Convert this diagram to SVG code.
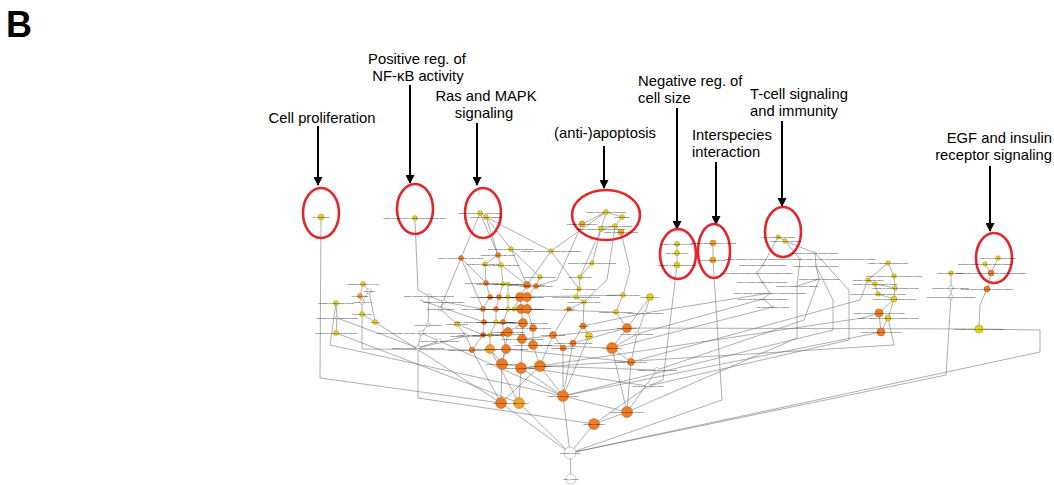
<svg xmlns="http://www.w3.org/2000/svg" width="1054" height="485" viewBox="0 0 1054 485">
<style>
.ann{font-family:"Liberation Sans",Arial,sans-serif;font-size:14.8px;fill:#000}
.arr{stroke:#000;stroke-width:2;fill:none}
.ring{fill:none;stroke:#e3262b;stroke-width:2.6}
.e{stroke:#6a6a6a;stroke-width:0.55;fill:none}
.y{fill:#e9d01f;stroke:#8c7d12;stroke-width:0.4}
.o{fill:#f07c22;stroke:#9c4c12;stroke-width:0.4}
.l{fill:#f2a326;stroke:#9c6412;stroke-width:0.4}
.w{fill:#fff;stroke:#777;stroke-width:0.4}
.node text{font-family:"Liberation Sans",Arial,sans-serif;font-size:2.4px;fill:#000;text-anchor:middle}
</style>
<defs>
<marker id="ah" viewBox="0 0 10 10" refX="9" refY="5" markerWidth="5" markerHeight="4.5" orient="auto" markerUnits="strokeWidth">
<path d="M0,0 L10,5 L0,10 z" fill="#000"/>
</marker>
</defs>
<rect width="1054" height="485" fill="#fff"/>
<text x="6" y="37" style="font-family:'Liberation Sans',Arial,sans-serif;font-size:36px;font-weight:bold">B</text>

<g id="connectors">
<path class="e" d="M321,220 L320,378 L501,403"/>
<path class="e" d="M415,221 L418,290 L429,296"/>
<path class="e" d="M480,213 L486,217"/>
<path class="e" d="M480,213 L461,258"/>
<path class="e" d="M480,213 L498,255"/>
<path class="e" d="M486,217 L511,249"/>
<path class="e" d="M486,217 L498,255"/>
<path class="e" d="M486,217 L551,251"/>
<path class="e" d="M461,258 L486,283"/>
<path class="e" d="M461,258 L440,309"/>
<path class="e" d="M461,258 L483,309"/>
<path class="e" d="M498,255 L485,264"/>
<path class="e" d="M498,255 L501,265"/>
<path class="e" d="M511,249 L527,285"/>
<path class="e" d="M511,249 L540,277"/>
<path class="e" d="M551,251 L527,285"/>
<path class="e" d="M551,251 L579,289"/>
<path class="e" d="M485,264 L486,283"/>
<path class="e" d="M501,265 L503,284"/>
<path class="e" d="M501,265 L527,285"/>
<path class="e" d="M540,277 L536,286"/>
<path class="e" d="M486,283 L490,297"/>
<path class="e" d="M503,284 L499,297"/>
<path class="e" d="M508,284 L508,297"/>
<path class="e" d="M527,285 L520,297"/>
<path class="e" d="M536,286 L527,297"/>
<path class="e" d="M490,297 L483,309"/>
<path class="e" d="M499,297 L496,309"/>
<path class="e" d="M508,297 L508,309"/>
<path class="e" d="M520,297 L514,309"/>
<path class="e" d="M520,297 L521,309"/>
<path class="e" d="M527,297 L527,309"/>
<path class="e" d="M483,309 L484,322"/>
<path class="e" d="M496,309 L496,322"/>
<path class="e" d="M508,309 L503,322"/>
<path class="e" d="M521,309 L523,323"/>
<path class="e" d="M527,309 L533,328"/>
<path class="e" d="M484,322 L483,335"/>
<path class="e" d="M496,322 L490,335"/>
<path class="e" d="M503,322 L503,334"/>
<path class="e" d="M523,323 L508,332"/>
<path class="e" d="M523,323 L522,339"/>
<path class="e" d="M533,328 L533,345"/>
<path class="e" d="M483,335 L472,350"/>
<path class="e" d="M490,335 L490,349"/>
<path class="e" d="M503,334 L506,349"/>
<path class="e" d="M508,332 L502,364"/>
<path class="e" d="M522,339 L521,368"/>
<path class="e" d="M533,345 L540,366"/>
<path class="e" d="M506,349 L502,364"/>
<path class="e" d="M490,349 L502,364"/>
<path class="e" d="M472,350 L501,403"/>
<path class="e" d="M490,349 L519,403"/>
<path class="e" d="M502,364 L501,403"/>
<path class="e" d="M521,368 L519,403"/>
<path class="e" d="M521,368 L563,396"/>
<path class="e" d="M540,366 L501,403"/>
<path class="e" d="M540,366 L563,396"/>
<path class="e" d="M553,335 L540,366"/>
<path class="e" d="M553,335 L563,348"/>
<path class="e" d="M573,343 L563,396"/>
<path class="e" d="M563,348 L563,396"/>
<path class="e" d="M583,326 L573,343"/>
<path class="e" d="M583,326 L589,336"/>
<path class="e" d="M589,336 L563,396"/>
<path class="e" d="M579,289 L576,297"/>
<path class="e" d="M576,297 L584,302"/>
<path class="e" d="M584,302 L569,309"/>
<path class="e" d="M569,309 L553,335"/>
<path class="e" d="M584,302 L583,326"/>
<path class="e" d="M580,277 L579,289"/>
<path class="e" d="M592,263 L580,277"/>
<path class="e" d="M623,295 L616,312"/>
<path class="e" d="M616,312 L627,328"/>
<path class="e" d="M627,328 L612,348"/>
<path class="e" d="M627,328 L573,343"/>
<path class="e" d="M612,348 L631,362"/>
<path class="e" d="M612,348 L627,412"/>
<path class="e" d="M631,362 L627,412"/>
<path class="e" d="M645,313 L637,334"/>
<path class="e" d="M637,334 L612,348"/>
<path class="e" d="M637,334 L631,362"/>
<path class="e" d="M657,370 L627,412"/>
<path class="e" d="M648,386 L594,424"/>
<path class="e" d="M650,297 L645,313"/>
<path class="e" d="M650,297 L627,328"/>
<path class="e" d="M563,396 L627,412"/>
<path class="e" d="M563,396 L570,453"/>
<path class="e" d="M627,412 L594,424"/>
<path class="e" d="M594,424 L570,453"/>
<path class="e" d="M501,403 L570,453"/>
<path class="e" d="M519,403 L570,453"/>
<path class="e" d="M570,453 L571,479"/>
<path class="e" d="M606,212 L582,224"/>
<path class="e" d="M606,212 L622,217"/>
<path class="e" d="M606,212 L601,229"/>
<path class="e" d="M622,217 L615,226"/>
<path class="e" d="M615,226 L601,229"/>
<path class="e" d="M615,226 L621,232"/>
<path class="e" d="M582,224 L557,280 L536,286"/>
<path class="e" d="M601,229 L593,260 L592,263"/>
<path class="e" d="M621,232 L630,270 L623,295"/>
<path class="e" d="M615,226 L607,280 L584,302"/>
<path class="e" d="M601,229 L580,277"/>
<path class="e" d="M606,212 L551,251"/>
<path class="e" d="M677,244 L677,253 L677,265"/>
<path class="e" d="M677,265 L663,380 L648,386"/>
<path class="e" d="M713,243 L713,260"/>
<path class="e" d="M713,260 L722,400 L570,453"/>
<path class="e" d="M778,237 L785,241"/>
<path class="e" d="M778,237 L763,265"/>
<path class="e" d="M785,241 L800,259"/>
<path class="e" d="M785,241 L815,253"/>
<path class="e" d="M763,265 L757,273"/>
<path class="e" d="M757,273 L762,282"/>
<path class="e" d="M762,282 L770,293"/>
<path class="e" d="M770,293 L763,299"/>
<path class="e" d="M763,299 L773,307"/>
<path class="e" d="M815,253 L816,266"/>
<path class="e" d="M816,266 L819,279"/>
<path class="e" d="M800,259 L797,286"/>
<path class="e" d="M797,286 L819,279"/>
<path class="e" d="M773,307 L612,348"/>
<path class="e" d="M770,293 L645,313"/>
<path class="e" d="M763,299 L637,334"/>
<path class="e" d="M797,286 L797,338 L627,412"/>
<path class="e" d="M819,279 L804,320 L657,370"/>
<path class="e" d="M816,266 L833,300 L833,330 L563,396"/>
<path class="e" d="M815,253 L849,290 L849,340 L648,386"/>
<path class="e" d="M888,263 L894,276"/>
<path class="e" d="M888,263 L868,280"/>
<path class="e" d="M894,276 L895,288"/>
<path class="e" d="M868,280 L875,284"/>
<path class="e" d="M875,284 L895,288"/>
<path class="e" d="M875,284 L878,294"/>
<path class="e" d="M895,288 L894,299"/>
<path class="e" d="M878,294 L894,299"/>
<path class="e" d="M894,299 L879,313"/>
<path class="e" d="M894,299 L888,318"/>
<path class="e" d="M879,313 L881,332"/>
<path class="e" d="M888,318 L881,332"/>
<path class="e" d="M881,332 L563,396"/>
<path class="e" d="M879,313 L862,318 L540,366"/>
<path class="e" d="M888,318 L894,345 L521,368"/>
<path class="e" d="M868,280 L860,300 L631,362"/>
<path class="e" d="M998,258 L991,273"/>
<path class="e" d="M985,264 L991,273"/>
<path class="e" d="M991,273 L987,289"/>
<path class="e" d="M987,289 L980,305 L979,329"/>
<path class="e" d="M979,329 L627,328"/>
<path class="e" d="M979,329 L1040,330 L1040,352 L570,453"/>
<path class="e" d="M951,273 L951,288"/>
<path class="e" d="M951,288 L951,297"/>
<path class="e" d="M951,297 L946,375 L570,453"/>
<path class="e" d="M363,284 L369,291"/>
<path class="e" d="M363,284 L360,296"/>
<path class="e" d="M360,296 L362,302"/>
<path class="e" d="M369,291 L362,302"/>
<path class="e" d="M362,302 L362,314"/>
<path class="e" d="M362,314 L375,322"/>
<path class="e" d="M369,291 L375,322"/>
<path class="e" d="M362,314 L362,349 L472,350"/>
<path class="e" d="M336,303 L337,318"/>
<path class="e" d="M337,318 L336,333"/>
<path class="e" d="M336,303 L330,345 L563,396"/>
<path class="e" d="M375,322 L501,403"/>
<path class="e" d="M336,333 L519,403"/>
<path class="e" d="M337,318 L418,348"/>
<path class="e" d="M429,296 L444,302"/>
<path class="e" d="M444,302 L440,309"/>
<path class="e" d="M429,296 L428,325"/>
<path class="e" d="M440,309 L457,324"/>
<path class="e" d="M428,325 L421,333"/>
<path class="e" d="M421,333 L439,341"/>
<path class="e" d="M439,341 L418,348"/>
<path class="e" d="M421,333 L418,348"/>
<path class="e" d="M457,324 L466,336"/>
<path class="e" d="M466,336 L418,348"/>
<path class="e" d="M466,336 L472,350"/>
<path class="e" d="M457,324 L483,335"/>
<path class="e" d="M418,348 L418,398 L594,424"/>
<path class="e" d="M439,341 L563,396"/>
<path class="e" d="M484,322 L420,300"/>
<path class="e" d="M483,309 L444,302"/>
<path class="e" d="M533,345 L612,348"/>
<path class="e" d="M522,339 L627,328"/>
<path class="e" d="M506,349 L631,362"/>
<path class="e" d="M540,366 L657,370"/>
<path class="e" d="M502,364 L648,386"/>
<path class="e" d="M583,326 L645,313"/>
<path class="e" d="M527,309 L616,312"/>
<path class="e" d="M527,297 L623,295"/>
</g>

<g id="annotations">
<text class="ann" x="322" y="123" text-anchor="middle">Cell proliferation</text>
<path class="arr" d="M318,126 L318,185" marker-end="url(#ah)"/>
<ellipse class="ring" cx="321" cy="213" rx="18" ry="25"/>
<text class="ann" x="417" y="64" text-anchor="middle">Positive reg. of</text>
<text class="ann" x="418" y="81" text-anchor="middle">NF-κB activity</text>
<path class="arr" d="M410,85 L410,183" marker-end="url(#ah)"/>
<ellipse class="ring" cx="415" cy="209" rx="18" ry="25"/>
<text class="ann" x="486" y="101" text-anchor="middle">Ras and MAPK</text>
<text class="ann" x="484" y="118" text-anchor="middle">signaling</text>
<path class="arr" d="M477,123 L477,185" marker-end="url(#ah)"/>
<ellipse class="ring" cx="483" cy="213" rx="18" ry="25"/>
<text class="ann" x="605" y="138" text-anchor="middle">(anti-)apoptosis</text>
<path class="arr" d="M604,146 L604,188" marker-end="url(#ah)"/>
<ellipse class="ring" cx="606" cy="215" rx="34" ry="25"/>
<text class="ann" x="638" y="86">Negative reg. of</text>
<text class="ann" x="638" y="103">cell size</text>
<path class="arr" d="M677,108 L677,229" marker-end="url(#ah)"/>
<ellipse class="ring" cx="678" cy="254" rx="18" ry="25"/>
<text class="ann" x="692" y="140">Interspecies</text>
<text class="ann" x="692" y="157">interaction</text>
<path class="arr" d="M716,162 L716,224" marker-end="url(#ah)"/>
<ellipse class="ring" cx="714" cy="251" rx="16" ry="27"/>
<text class="ann" x="750" y="99">T-cell signaling</text>
<text class="ann" x="750" y="116">and immunity</text>
<path class="arr" d="M782,121 L782,206" marker-end="url(#ah)"/>
<ellipse class="ring" cx="783" cy="232" rx="18" ry="25"/>
<text class="ann" x="1052" y="143" text-anchor="end">EGF and insulin</text>
<text class="ann" x="1052" y="160" text-anchor="end">receptor signaling</text>
<path class="arr" d="M990,166 L990,231" marker-end="url(#ah)"/>
<ellipse class="ring" cx="994" cy="258" rx="18" ry="25"/>
</g>

<g id="n1" class="node"><circle class="y" cx="321" cy="217" r="3"/><text x="321" y="218">cell proliferation</text></g>
<g id="n2" class="node"><circle class="y" cx="415" cy="218" r="2.5"/><text x="415" y="219">positive regulation of NF-kappaB transcription factor activity</text></g>
<g id="n3" class="node"><circle class="y" cx="480" cy="213" r="2.5"/><text x="480" y="214">positive regulation of MAP kinase activity</text></g>
<g id="n4" class="node"><circle class="y" cx="486" cy="217" r="2.5"/><text x="486" y="218">Ras protein signal transduction</text></g>
<g id="n5" class="node"><circle class="y" cx="606" cy="212" r="2.5"/><text x="606" y="213">positive regulation of cell proliferation</text></g>
<g id="n6" class="node"><circle class="l" cx="582" cy="224" r="3"/><text x="582" y="225">regulation of cell proliferation</text></g>
<g id="n7" class="node"><circle class="y" cx="622" cy="217" r="2.5"/><text x="622" y="218">anti-apoptosis</text></g>
<g id="n8" class="node"><circle class="y" cx="615" cy="226" r="2.5"/><text x="615" y="227">negative regulation of apoptosis</text></g>
<g id="n9" class="node"><circle class="y" cx="601" cy="229" r="2.5"/><text x="601" y="230">negative regulation of programmed cell death</text></g>
<g id="n10" class="node"><circle class="l" cx="621" cy="232" r="3"/><text x="621" y="233">negative regulation of cell death</text></g>
<g id="n11" class="node"><circle class="y" cx="677" cy="244" r="2.5"/><text x="677" y="245">negative regulation of cell size</text></g>
<g id="n12" class="node"><circle class="y" cx="677" cy="253" r="2.5"/><text x="677" y="254">regulation of cell size</text></g>
<g id="n13" class="node"><circle class="y" cx="677" cy="265" r="3"/><text x="677" y="266">regulation of cellular component size</text></g>
<g id="n14" class="node"><circle class="l" cx="713" cy="243" r="3"/><text x="713" y="244">interspecies interaction between organisms</text></g>
<g id="n15" class="node"><circle class="l" cx="713" cy="260" r="3"/><text x="713" y="261">multi-organism process</text></g>
<g id="n16" class="node"><circle class="y" cx="778" cy="237" r="2.3"/><text x="778" y="238">T cell receptor signaling pathway</text></g>
<g id="n17" class="node"><circle class="y" cx="785" cy="241" r="2.3"/><text x="785" y="242">regulation of T cell activation</text></g>
<g id="n18" class="node"><circle class="y" cx="998" cy="258" r="2.3"/><text x="998" y="259">insulin receptor signaling pathway</text></g>
<g id="n19" class="node"><circle class="y" cx="985" cy="264" r="2.3"/><text x="985" y="265">epidermal growth factor receptor signaling pathway</text></g>
<g id="n20" class="node"><circle class="o" cx="991" cy="273" r="3"/><text x="991" y="274">transmembrane receptor protein tyrosine kinase signaling pathway</text></g>
<g id="n21" class="node"><circle class="o" cx="987" cy="289" r="3"/><text x="987" y="290">enzyme linked receptor protein signaling pathway</text></g>
<g id="n22" class="node"><circle class="y" cx="979" cy="329" r="4"/><text x="979" y="330">cell surface receptor linked signal transduction</text></g>
<g id="n23" class="node"><circle class="y" cx="951" cy="273" r="2.3"/><text x="951" y="274">protein complex assembly</text></g>
<g id="n24" class="node"><circle class="w" cx="951" cy="288" r="2.3"/><text x="951" y="289">macromolecular complex assembly</text></g>
<g id="n25" class="node"><circle class="w" cx="951" cy="297" r="2.3"/><text x="951" y="298">macromolecular complex subunit organization</text></g>
<g id="n26" class="node"><circle class="y" cx="888" cy="263" r="2.3"/><text x="888" y="264">negative regulation of phosphorylation</text></g>
<g id="n27" class="node"><circle class="y" cx="894" cy="276" r="2.3"/><text x="894" y="277">negative regulation of phosphorus metabolic process</text></g>
<g id="n28" class="node"><circle class="y" cx="868" cy="280" r="2.3"/><text x="868" y="281">regulation of phosphorylation</text></g>
<g id="n29" class="node"><circle class="y" cx="875" cy="284" r="2.3"/><text x="875" y="285">regulation of phosphate metabolic process</text></g>
<g id="n30" class="node"><circle class="y" cx="895" cy="288" r="2.3"/><text x="895" y="289">regulation of phosphorus metabolic process</text></g>
<g id="n31" class="node"><circle class="y" cx="878" cy="294" r="2.3"/><text x="878" y="295">negative regulation of phosphate metabolic process</text></g>
<g id="n32" class="node"><circle class="y" cx="894" cy="299" r="3"/><text x="894" y="300">negative regulation of metabolic process</text></g>
<g id="n33" class="node"><circle class="o" cx="879" cy="313" r="4"/><text x="879" y="314">negative regulation of cellular metabolic process</text></g>
<g id="n34" class="node"><circle class="y" cx="888" cy="318" r="3"/><text x="888" y="319">negative regulation of macromolecule metabolic process</text></g>
<g id="n35" class="node"><circle class="o" cx="881" cy="332" r="4"/><text x="881" y="333">negative regulation of cellular process</text></g>
<g id="n36" class="node"><circle class="w" cx="815" cy="253" r="1.2"/><text x="815" y="254">regulation of lymphocyte mediated immunity</text></g>
<g id="n37" class="node"><circle class="w" cx="800" cy="259" r="1.2"/><text x="800" y="260">regulation of adaptive immune response based on somatic recombination of immune receptors built from immunoglobulin superfamily domains</text></g>
<g id="n38" class="node"><circle class="w" cx="763" cy="265" r="1.2"/><text x="763" y="266">antigen receptor-mediated signaling pathway</text></g>
<g id="n39" class="node"><circle class="w" cx="816" cy="266" r="1.2"/><text x="816" y="267">regulation of leukocyte mediated immunity</text></g>
<g id="n40" class="node"><circle class="w" cx="757" cy="273" r="1.2"/><text x="757" y="274">immune response-activating cell surface receptor signaling pathway</text></g>
<g id="n41" class="node"><circle class="w" cx="819" cy="279" r="1.2"/><text x="819" y="280">regulation of immune effector process</text></g>
<g id="n42" class="node"><circle class="w" cx="762" cy="282" r="1.2"/><text x="762" y="283">immune response-activating signal transduction</text></g>
<g id="n43" class="node"><circle class="w" cx="797" cy="286" r="1.2"/><text x="797" y="287">regulation of adaptive immune response</text></g>
<g id="n44" class="node"><circle class="w" cx="770" cy="293" r="1.2"/><text x="770" y="294">immune response-regulating cell surface receptor signaling pathway</text></g>
<g id="n45" class="node"><circle class="w" cx="763" cy="299" r="1.2"/><text x="763" y="300">immune response-regulating signal transduction</text></g>
<g id="n46" class="node"><circle class="w" cx="773" cy="307" r="1.2"/><text x="773" y="308">activation of immune response</text></g>
<g id="n47" class="node"><circle class="y" cx="363" cy="284" r="2.5"/><text x="363" y="285">interphase of mitotic cell cycle</text></g>
<g id="n48" class="node"><circle class="w" cx="369" cy="291" r="2.3"/><text x="369" y="292">interphase</text></g>
<g id="n49" class="node"><circle class="l" cx="360" cy="296" r="2.5"/><text x="360" y="297">cell cycle phase</text></g>
<g id="n50" class="node"><circle class="w" cx="362" cy="302" r="2.3"/><text x="362" y="303">mitotic cell cycle</text></g>
<g id="n51" class="node"><circle class="y" cx="362" cy="314" r="2.5"/><text x="362" y="315">cell cycle process</text></g>
<g id="n52" class="node"><circle class="y" cx="375" cy="322" r="2.5"/><text x="375" y="323">cell cycle</text></g>
<g id="n53" class="node"><circle class="y" cx="336" cy="303" r="2.5"/><text x="336" y="304">regulation of biosynthetic process</text></g>
<g id="n54" class="node"><circle class="w" cx="337" cy="318" r="1.5"/><text x="337" y="319">regulation of cellular metabolic process</text></g>
<g id="n55" class="node"><circle class="y" cx="336" cy="333" r="2.5"/><text x="336" y="334">regulation of primary metabolic process</text></g>
<g id="n56" class="node"><circle class="w" cx="429" cy="296" r="2"/><text x="429" y="297">positive regulation of transcription factor activity</text></g>
<g id="n57" class="node"><circle class="w" cx="444" cy="302" r="2"/><text x="444" y="303">regulation of transcription factor activity</text></g>
<g id="n58" class="node"><circle class="w" cx="440" cy="309" r="2"/><text x="440" y="310">regulation of DNA binding</text></g>
<g id="n59" class="node"><circle class="w" cx="428" cy="325" r="2"/><text x="428" y="326">regulation of transcription</text></g>
<g id="n60" class="node"><circle class="y" cx="457" cy="324" r="2.5"/><text x="457" y="325">regulation of binding</text></g>
<g id="n61" class="node"><circle class="w" cx="421" cy="333" r="2.3"/><text x="421" y="334">regulation of nucleobase, nucleoside, nucleotide and nucleic acid metabolic process</text></g>
<g id="n62" class="node"><circle class="w" cx="439" cy="341" r="2.3"/><text x="439" y="342">regulation of RNA metabolic process</text></g>
<g id="n63" class="node"><circle class="w" cx="418" cy="348" r="2.3"/><text x="418" y="349">regulation of macromolecule biosynthetic process</text></g>
<g id="n64" class="node"><circle class="w" cx="466" cy="336" r="2.3"/><text x="466" y="337">regulation of gene expression</text></g>
<g id="n65" class="node"><circle class="o" cx="461" cy="258" r="2.5"/><text x="461" y="259">positive regulation of protein kinase activity</text></g>
<g id="n66" class="node"><circle class="o" cx="498" cy="255" r="2.5"/><text x="498" y="256">regulation of MAP kinase activity</text></g>
<g id="n67" class="node"><circle class="y" cx="511" cy="249" r="2.5"/><text x="511" y="250">small GTPase mediated signal transduction</text></g>
<g id="n68" class="node"><circle class="y" cx="485" cy="264" r="2.3"/><text x="485" y="265">activation of protein kinase activity</text></g>
<g id="n69" class="node"><circle class="y" cx="501" cy="265" r="2.3"/><text x="501" y="266">positive regulation of kinase activity</text></g>
<g id="n70" class="node"><circle class="y" cx="551" cy="251" r="2.3"/><text x="551" y="252">regulation of small GTPase mediated signal transduction</text></g>
<g id="n71" class="node"><circle class="o" cx="486" cy="283" r="2.5"/><text x="486" y="284">positive regulation of transferase activity</text></g>
<g id="n72" class="node"><circle class="y" cx="503" cy="284" r="2"/><text x="503" y="285">positive regulation of protein modification process</text></g>
<g id="n73" class="node"><circle class="y" cx="508" cy="284" r="2"/><text x="508" y="285">regulation of kinase activity</text></g>
<g id="n74" class="node"><circle class="o" cx="527" cy="285" r="3.5"/><text x="527" y="286">regulation of protein kinase activity</text></g>
<g id="n75" class="node"><circle class="y" cx="540" cy="277" r="2.3"/><text x="540" y="278">intracellular signaling cascade</text></g>
<g id="n76" class="node"><circle class="o" cx="536" cy="286" r="2.5"/><text x="536" y="287">regulation of transferase activity</text></g>
<g id="n77" class="node"><circle class="o" cx="490" cy="297" r="2.5"/><text x="490" y="298">positive regulation of catalytic activity</text></g>
<g id="n78" class="node"><circle class="o" cx="499" cy="297" r="2.5"/><text x="499" y="298">positive regulation of molecular function</text></g>
<g id="n79" class="node"><circle class="y" cx="508" cy="297" r="2.2"/><text x="508" y="298">regulation of protein modification process</text></g>
<g id="n80" class="node"><circle class="o" cx="520" cy="297" r="4.5"/><text x="520" y="298">regulation of catalytic activity</text></g>
<g id="n81" class="node"><circle class="o" cx="527" cy="297" r="4.5"/><text x="527" y="298">regulation of molecular function</text></g>
<g id="n82" class="node"><circle class="o" cx="483" cy="309" r="2.5"/><text x="483" y="310">positive regulation of signal transduction</text></g>
<g id="n83" class="node"><circle class="o" cx="496" cy="309" r="2.5"/><text x="496" y="310">positive regulation of cellular process</text></g>
<g id="n84" class="node"><circle class="y" cx="508" cy="309" r="2.2"/><text x="508" y="310">positive regulation of cell communication</text></g>
<g id="n85" class="node"><circle class="y" cx="514" cy="309" r="2.2"/><text x="514" y="310">regulation of signal transduction</text></g>
<g id="n86" class="node"><circle class="o" cx="521" cy="309" r="4.5"/><text x="521" y="310">positive regulation of biological process</text></g>
<g id="n87" class="node"><circle class="o" cx="527" cy="309" r="4.5"/><text x="527" y="310">regulation of cell communication</text></g>
<g id="n88" class="node"><circle class="o" cx="484" cy="322" r="2.5"/><text x="484" y="323">positive regulation of macromolecule metabolic process</text></g>
<g id="n89" class="node"><circle class="y" cx="496" cy="322" r="2.2"/><text x="496" y="323">positive regulation of gene expression</text></g>
<g id="n90" class="node"><circle class="o" cx="503" cy="322" r="2.5"/><text x="503" y="323">positive regulation of metabolic process</text></g>
<g id="n91" class="node"><circle class="o" cx="523" cy="323" r="4.5"/><text x="523" y="324">regulation of macromolecule metabolic process</text></g>
<g id="n92" class="node"><circle class="o" cx="533" cy="328" r="3.5"/><text x="533" y="329">regulation of response to stimulus</text></g>
<g id="n93" class="node"><circle class="o" cx="483" cy="335" r="2.5"/><text x="483" y="336">positive regulation of cellular metabolic process</text></g>
<g id="n94" class="node"><circle class="y" cx="490" cy="335" r="2.2"/><text x="490" y="336">positive regulation of transcription</text></g>
<g id="n95" class="node"><circle class="o" cx="503" cy="334" r="2.5"/><text x="503" y="335">positive regulation of biosynthetic process</text></g>
<g id="n96" class="node"><circle class="o" cx="508" cy="332" r="4.5"/><text x="508" y="333">regulation of metabolic process</text></g>
<g id="n97" class="node"><circle class="o" cx="522" cy="339" r="4.5"/><text x="522" y="340">regulation of cellular metabolic process</text></g>
<g id="n98" class="node"><circle class="o" cx="533" cy="345" r="4.5"/><text x="533" y="346">regulation of developmental process</text></g>
<g id="n99" class="node"><circle class="o" cx="472" cy="350" r="2.8"/><text x="472" y="351">positive regulation of developmental process</text></g>
<g id="n100" class="node"><circle class="l" cx="490" cy="349" r="4.5"/><text x="490" y="350">response to organic substance</text></g>
<g id="n101" class="node"><circle class="o" cx="506" cy="349" r="4.5"/><text x="506" y="350">positive regulation of response to stimulus</text></g>
<g id="n102" class="node"><circle class="o" cx="502" cy="364" r="5.5"/><text x="502" y="365">cellular developmental process</text></g>
<g id="n103" class="node"><circle class="o" cx="521" cy="368" r="5.5"/><text x="521" y="369">response to chemical stimulus</text></g>
<g id="n104" class="node"><circle class="o" cx="540" cy="366" r="5.5"/><text x="540" y="367">response to stimulus</text></g>
<g id="n105" class="node"><circle class="o" cx="553" cy="335" r="3.5"/><text x="553" y="336">regulation of cell death</text></g>
<g id="n106" class="node"><circle class="o" cx="573" cy="343" r="3"/><text x="573" y="344">regulation of programmed cell death</text></g>
<g id="n107" class="node"><circle class="o" cx="563" cy="348" r="3"/><text x="563" y="349">regulation of apoptosis</text></g>
<g id="n108" class="node"><circle class="o" cx="583" cy="326" r="3"/><text x="583" y="327">cell death</text></g>
<g id="n109" class="node"><circle class="y" cx="589" cy="336" r="3.5"/><text x="589" y="337">death</text></g>
<g id="n110" class="node"><circle class="y" cx="579" cy="289" r="2.3"/><text x="579" y="290">positive regulation of apoptosis</text></g>
<g id="n111" class="node"><circle class="y" cx="576" cy="297" r="2.3"/><text x="576" y="298">positive regulation of programmed cell death</text></g>
<g id="n112" class="node"><circle class="y" cx="584" cy="302" r="2.3"/><text x="584" y="303">positive regulation of cell death</text></g>
<g id="n113" class="node"><circle class="o" cx="569" cy="309" r="2.3"/><text x="569" y="310">apoptosis</text></g>
<g id="n114" class="node"><circle class="y" cx="623" cy="295" r="2.3"/><text x="623" y="296">regulation of cytokine secretion</text></g>
<g id="n115" class="node"><circle class="y" cx="616" cy="312" r="2.5"/><text x="616" y="313">regulation of signal transduction</text></g>
<g id="n116" class="node"><circle class="o" cx="627" cy="328" r="4.5"/><text x="627" y="329">signal transduction</text></g>
<g id="n117" class="node"><circle class="o" cx="612" cy="348" r="5.5"/><text x="612" y="349">cell communication</text></g>
<g id="n118" class="node"><circle class="o" cx="631" cy="362" r="3.5"/><text x="631" y="363">regulation of cellular process</text></g>
<g id="n119" class="node"><circle class="w" cx="645" cy="313" r="2"/><text x="645" y="314">regulation of response to stimulus</text></g>
<g id="n120" class="node"><circle class="w" cx="637" cy="334" r="2"/><text x="637" y="335">regulation of immune response</text></g>
<g id="n121" class="node"><circle class="w" cx="657" cy="370" r="2.5"/><text x="657" y="371">regulation of immune system process</text></g>
<g id="n122" class="node"><circle class="w" cx="648" cy="386" r="2.5"/><text x="648" y="387">regulation of biological quality</text></g>
<g id="n123" class="node"><circle class="y" cx="592" cy="263" r="2.3"/><text x="592" y="264">induction of apoptosis by extracellular signals</text></g>
<g id="n124" class="node"><circle class="y" cx="650" cy="297" r="3.5"/><text x="650" y="298">response to virus</text></g>
<g id="n125" class="node"><circle class="y" cx="580" cy="277" r="2.3"/><text x="580" y="278">induction of apoptosis</text></g>
<g id="n126" class="node"><circle class="o" cx="563" cy="396" r="5.5"/><text x="563" y="397">regulation of cellular process</text></g>
<g id="n127" class="node"><circle class="o" cx="501" cy="403" r="5.5"/><text x="501" y="404">cellular process</text></g>
<g id="n128" class="node"><circle class="l" cx="519" cy="403" r="5.5"/><text x="519" y="404">metabolic process</text></g>
<g id="n129" class="node"><circle class="o" cx="594" cy="424" r="5.5"/><text x="594" y="425">biological regulation</text></g>
<g id="n130" class="node"><circle class="o" cx="627" cy="412" r="5.5"/><text x="627" y="413">regulation of biological process</text></g>
<g id="n131" class="node"><circle class="w" cx="570" cy="453" r="6"/><text x="570" y="454">biological_process</text></g>
<g id="n132" class="node"><circle class="w" cx="571" cy="479" r="5"/><text x="571" y="480">gene_ontology</text></g>
</svg>
